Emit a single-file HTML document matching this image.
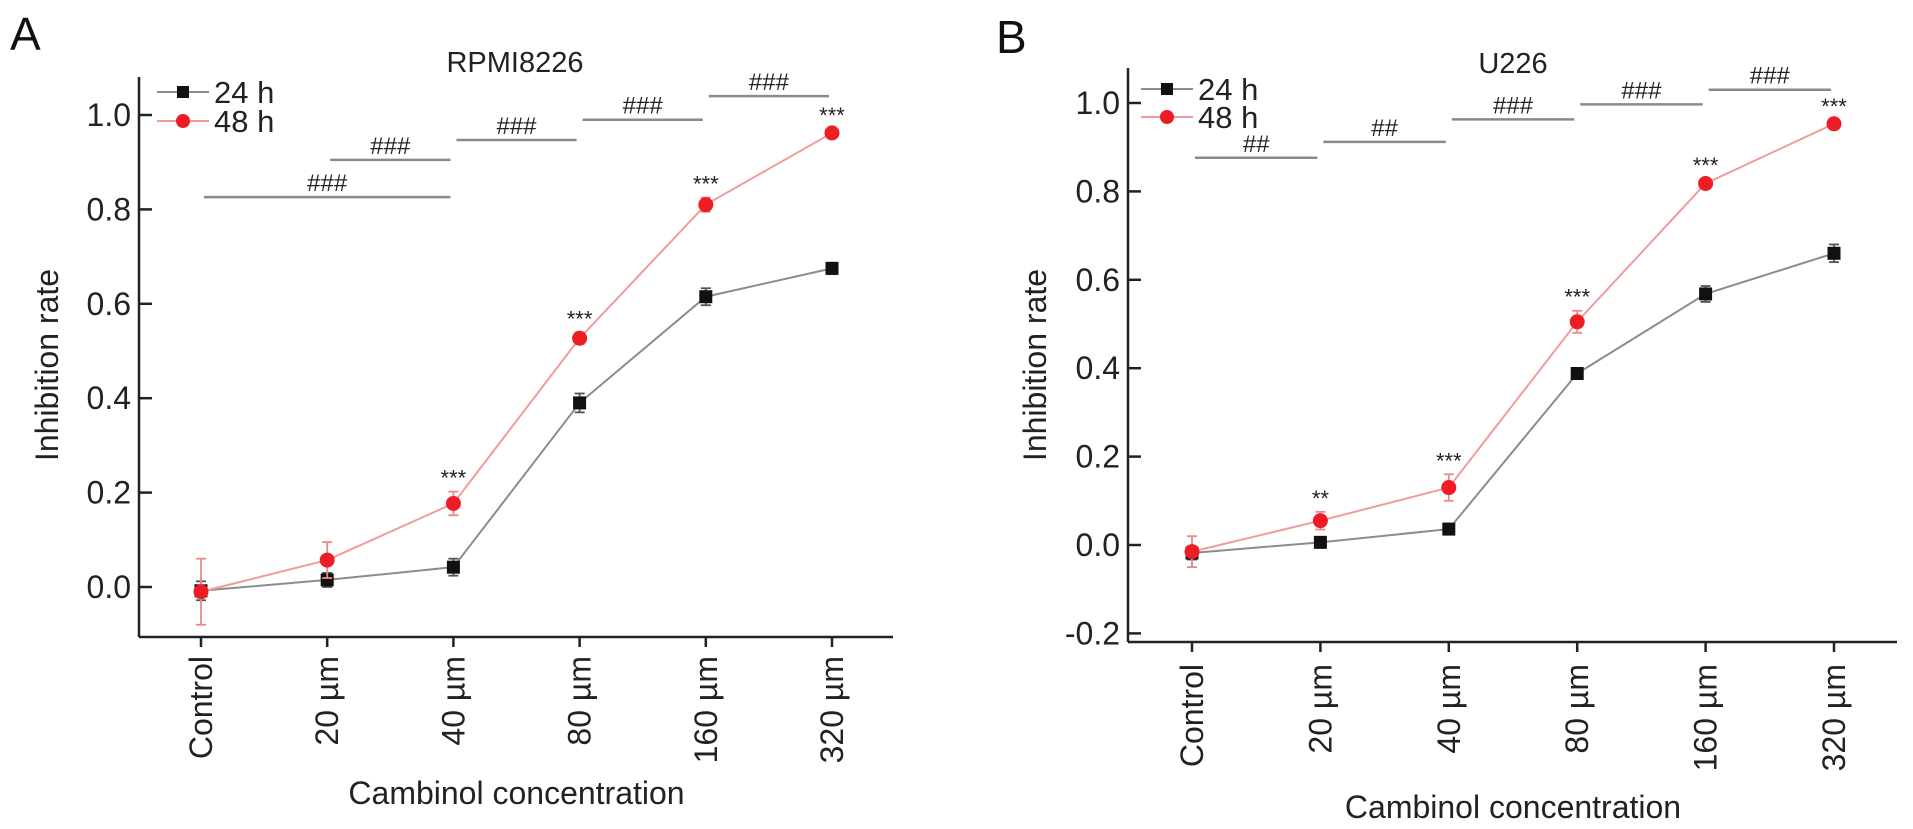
<!DOCTYPE html>
<html><head><meta charset="utf-8">
<style>
html,body{margin:0;padding:0;background:#fff;}
svg{display:block;font-family:"Liberation Sans",Arial,sans-serif;}
</style></head>
<body>
<svg id="chart" width="1913" height="829" viewBox="0 0 1913 829" xmlns="http://www.w3.org/2000/svg"></svg>
<script>
const categories = ["Control","20 µm","40 µm","80 µm","160 µm","320 µm"];
const aSeries24 = [-0.008,0.015,0.042,0.39,0.615,0.675];
const aErr24 = [0.02,0.015,0.018,0.02,0.018,0.012];
const aSeries48 = [-0.01,0.057,0.177,0.527,0.81,0.962];
const aErr48 = [0.07,0.038,0.025,0.012,0.015,0.008];
const aStars = ["","","***","***","***","***"];
const aBarFrom = [0,1,2,3,4];
const aBarTo = [2,2,3,4,5];
const aBarY = [0.826,0.905,0.947,0.99,1.04];
const aBarLabel = ["###","###","###","###","###"];
const aTicks = [0,0.2,0.4,0.6,0.8,1.0];
const aTickLabels = ["0.0","0.2","0.4","0.6","0.8","1.0"];

const bSeries24 = [-0.018,0.006,0.036,0.388,0.568,0.66];
const bErr24 = [0.015,0.01,0.012,0.012,0.018,0.02];
const bSeries48 = [-0.015,0.055,0.13,0.505,0.818,0.953];
const bErr48 = [0.035,0.02,0.03,0.025,0.01,0.008];
const bStars = ["","**","***","***","***","***"];
const bBarFrom = [0,1,2,3,4];
const bBarTo = [1,2,3,4,5];
const bBarY = [0.876,0.912,0.963,0.997,1.03];
const bBarLabel = ["##","##","###","###","###"];
const bTicks = [-0.2,0,0.2,0.4,0.6,0.8,1.0];
const bTickLabels = ["-0.2","0.0","0.2","0.4","0.6","0.8","1.0"];

const NS="http://www.w3.org/2000/svg";
const svg=document.getElementById('chart');
function mk(tag,attrs,parent,text){
  const e=document.createElementNS(NS,tag);
  for(const k in attrs)e.setAttribute(k,attrs[k]);
  if(text!==undefined)e.textContent=text;
  (parent||svg).appendChild(e);return e;
}

function panel(p){
  const g=mk('g',{});
  
  
  const y=v=>p.y0-(v)*(p.y0-p.y1);   // y1 = pixel of 1.0
  const x=i=>p.x0+i*p.dx;
  // panel letter
  const L=mk('text',{x:p.letterX,y:p.letterY,'font-size':46,fill:'#111'},g,p.letter);
  
  
  const T=mk('text',{x:p.titleX,y:p.titleY,'font-size':29,'text-anchor':'middle',fill:'#222'},g,p.title);
  
  
  // axes
  const ya=mk('line',{x1:p.ax,y1:p.axTop,x2:p.ax,y2:p.axBot,stroke:'#222','stroke-width':2.5},g);
  
  
  const xa=mk('line',{x1:p.ax,y1:p.axBot,x2:p.axRight,y2:p.axBot,stroke:'#222','stroke-width':2.5},g);
  
  
  p.ticks.forEach((t,i)=>{
    mk('line',{x1:p.ax,y1:y(t),x2:p.ax+13,y2:y(t),stroke:'#222','stroke-width':2.5},g);
    const tl=mk('text',{x:p.ax-8,y:y(t)+11,'font-size':32,'text-anchor':'end',fill:'#222'},g,p.tickLabels[i]);
    
    
  });
  categories.forEach((c,i)=>{
    mk('line',{x1:x(i),y1:p.axBot,x2:x(i),y2:p.axBot+10,stroke:'#222','stroke-width':2.5},g);
    const tl=mk('text',{x:0,y:0,'font-size':32,'text-anchor':'end',fill:'#222',
      transform:`translate(${x(i)+11},${p.labTop}) rotate(-90)`},g,c);
    
    
  });
  const yt=mk('text',{x:0,y:0,'font-size':32,'text-anchor':'middle',fill:'#222',
    transform:`translate(${p.yTitleX},365) rotate(-90)`},g,'Inhibition rate');
  
  
  const xt=mk('text',{x:(x(0)+x(5))/2,y:p.xTitleY,'font-size':32,'text-anchor':'middle',fill:'#222'},g,'Cambinol concentration');
  
  
  // significance bars
  p.barFrom.forEach((f,i)=>{
    const yy=y(p.barY[i]);
    const b=mk('line',{x1:x(f)+3,y1:yy,x2:x(p.barTo[i])-3,y2:yy,stroke:'#8a8a8a','stroke-width':2.5},g);
    
    
    const bl=mk('text',{x:(x(f)+x(p.barTo[i]))/2,y:yy-6,'font-size':24,'text-anchor':'middle',fill:'#222'},g,p.barLabel[i]);
    
    
  });
  // series
  function series(vals,errs,lineCol,markCol,shape,nm){
    const pts=vals.map((v,i)=>x(i)+','+y(v)).join(' ');
    const pl=mk('polyline',{points:pts,fill:'none',stroke:lineCol,'stroke-width':2},g);
    
    
    vals.forEach((v,i)=>{
      const ec=shape==='c'?'#e98a8a':'#555';
      mk('line',{x1:x(i),y1:y(v+errs[i]),x2:x(i),y2:y(v-errs[i]),stroke:ec,'stroke-width':1.8},g);
      mk('line',{x1:x(i)-5,y1:y(v+errs[i]),x2:x(i)+5,y2:y(v+errs[i]),stroke:ec,'stroke-width':1.8},g);
      mk('line',{x1:x(i)-5,y1:y(v-errs[i]),x2:x(i)+5,y2:y(v-errs[i]),stroke:ec,'stroke-width':1.8},g);
      let m;
      if(shape==='c') m=mk('circle',{cx:x(i),cy:y(v),r:7.5,fill:markCol},g);
      else m=mk('rect',{x:x(i)-6.5,y:y(v)-6.5,width:13,height:13,fill:markCol},g);
      
      
    });
  }
  series(p.s24,p.e24,'#8c8c8c','#111','s','series-24h');
  series(p.s48,p.e48,'#f29b9b','#ee1c25','c','series-48h');
  p.stars.forEach((s,i)=>{
    if(!s)return;
    const st=mk('text',{x:x(i),y:y(p.s48[i]+p.e48[i])-6,'font-size':22,'text-anchor':'middle',fill:'#222'},g,s);
    
    
  });
  // legend
  const lg=mk('g',{},g);
  
  
  [[p.leg24Y,'#8c8c8c','#111','s','24 h'],[p.leg48Y,'#f29b9b','#ee1c25','c','48 h']].forEach(r=>{
    const e=mk('g',{},lg);
    
    
    mk('line',{x1:p.legX,y1:r[0],x2:p.legX+52,y2:r[0],stroke:r[1],'stroke-width':2},e);
    if(r[3]==='s')mk('rect',{x:p.legX+20,y:r[0]-6,width:12,height:12,fill:r[2]},e);
    else mk('circle',{cx:p.legX+26,cy:r[0],r:7,fill:r[2]},e);
    mk('text',{x:p.legX+57,y:r[0]+11,'font-size':31,fill:'#222'},e,r[4]);
  });
}

panel({name:'panel-a-rpmi8226',letter:'A',letterX:10,letterY:50,title:'RPMI8226',titleX:515,titleY:72,
  ax:139,axTop:77,axBot:637,axRight:893,y0:587,y1:115,x0:201,dx:126.2,
  ticks:aTicks,tickLabels:aTickLabels,labTop:656,yTitleX:58,xTitleY:804,
  barFrom:aBarFrom,barTo:aBarTo,barY:aBarY,barLabel:aBarLabel,
  s24:aSeries24,e24:aErr24,s48:aSeries48,e48:aErr48,stars:aStars,
  legX:157,leg24Y:92,leg48Y:121});
panel({name:'panel-b-u226',letter:'B',letterX:996,letterY:53,title:'U226',titleX:1513,titleY:73,
  ax:1128,axTop:68,axBot:642,axRight:1897,y0:545,y1:103,x0:1192,dx:128.4,
  ticks:bTicks,tickLabels:bTickLabels,labTop:664,yTitleX:1046,xTitleY:818,
  barFrom:bBarFrom,barTo:bBarTo,barY:bBarY,barLabel:bBarLabel,
  s24:bSeries24,e24:bErr24,s48:bSeries48,e48:bErr48,stars:bStars,
  legX:1141,leg24Y:89,leg48Y:117});
</script>
</body></html>
